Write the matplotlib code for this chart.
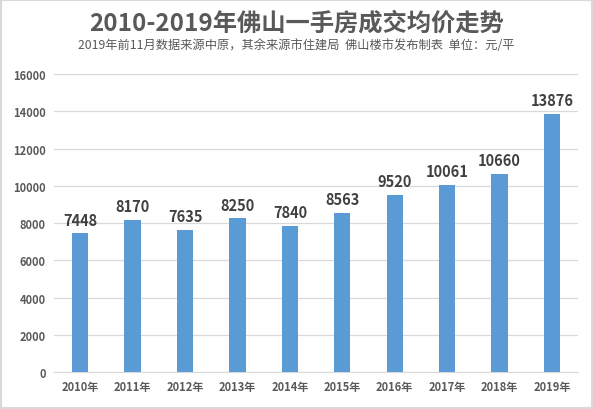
import matplotlib.pyplot as plt

plt.rcParams['font.family'] = ['Noto Sans CJK SC', 'DejaVu Sans']

years = ['2010年', '2011年', '2012年', '2013年', '2014年',
         '2015年', '2016年', '2017年', '2018年', '2019年']
prices = [7448, 8170, 7635, 8250, 7840, 8563, 9520, 10061, 10660, 13876]
yticks = [0, 2000, 4000, 6000, 8000, 10000, 12000, 14000, 16000]

text_color = '#595959'
bar_color = '#5B9BD5'

fig = plt.figure(figsize=(5.93, 4.10), dpi=100)
ax = fig.add_axes([0.091, 0.090, 0.884, 0.727])

x = range(len(years))
ax.bar(x, prices, width=0.31, color=bar_color, zorder=3)
for i, v in zip(x, prices):
    ax.text(i, v + 300, str(v), ha='center', va='bottom', fontsize=10.5,
            fontweight='bold', color='#404040')

ax.set_xlim(-0.5, len(years) - 0.5)
ax.set_ylim(0, 16000)
ax.set_yticks(yticks)
ax.set_yticklabels([str(t) for t in yticks], fontsize=8, fontweight='bold', color=text_color)
ax.set_xticks(list(x))
ax.set_xticklabels(years, fontsize=8, fontweight='bold', color=text_color)
ax.tick_params(length=0, pad=6)
ax.yaxis.grid(True, color='#d9d9d9', linewidth=0.9, zorder=0)
for s in ['top', 'right', 'left']:
    ax.spines[s].set_visible(False)
ax.spines['bottom'].set_color('#d9d9d9')

fig.text(0.5, 0.943, '2010-2019年佛山一手房成交均价走势', ha='center', va='center',
         fontsize=17.5, fontweight='bold', color=text_color)
fig.text(0.5, 0.888, '2019年前11月数据来源中原，其余来源市住建局  佛山楼市发布制表  单位：元/平',
         ha='center', va='center', fontsize=8.8, color=text_color)

border = plt.Rectangle((0.002, 0.003), 0.996, 0.994, transform=fig.transFigure,
                       fill=False, edgecolor='#d9d9d9', linewidth=1.5)
fig.patches.append(border)

fig.savefig('out.png', dpi=100)
